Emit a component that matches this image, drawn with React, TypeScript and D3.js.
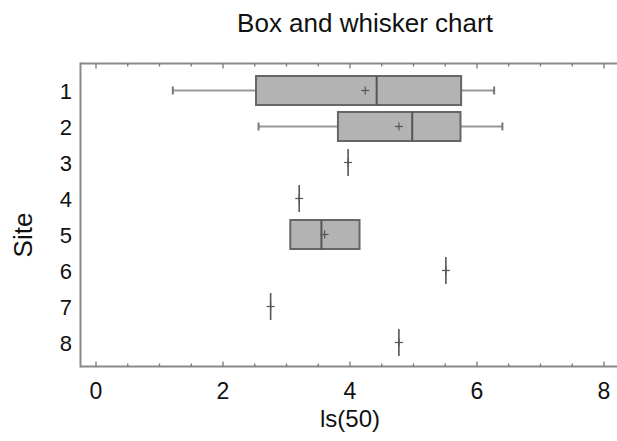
import * as d3 from "d3";
import React from "react";

const W = 617;
const H = 441;

// box and whisker summary per site, values on the ls(50) scale
const sites = ["1", "2", "3", "4", "5", "6", "7", "8"];
const minVals = [1.21, 2.56, 3.97, 3.2, 3.06, 5.51, 2.75, 4.77];
const q1Vals = [2.52, 3.81, 3.97, 3.2, 3.06, 5.51, 2.75, 4.77];
const medianVals = [4.42, 4.98, 3.97, 3.2, 3.55, 5.51, 2.75, 4.77];
const q3Vals = [5.75, 5.74, 3.97, 3.2, 4.15, 5.51, 2.75, 4.77];
const maxVals = [6.27, 6.4, 3.97, 3.2, 4.15, 5.51, 2.75, 4.77];
const meanVals = [4.24, 4.77, 3.97, 3.2, 3.6, 5.51, 2.75, 4.77];

const xTicks = [0, 2, 4, 6, 8];

const left = 80.5;
const top = 63.5;
const bottom = 366.5;
const boxH = 29;
const font = "Arial, 'Liberation Sans', sans-serif";

export default function App() {
    const x = d3.scaleLinear().domain([0, 8]).range([96, 604]);
    const y = d3.scalePoint<string>().domain(sites).range([90.5, 342.5]);
    const minorTicks = d3.range(0, 8.01, 0.5);

    return (
        <svg
            width={W}
            height={H}
            style={{ position: "absolute", left: 0, top: 0, background: "#fff" }}
            fontFamily={font}
        >
            {/* title */}
            <text x={365} y={31.5} textAnchor="middle" fontSize={26} fill="#111">
                Box and whisker chart
            </text>

            {/* frame */}
            <g stroke="#8a8a8a" strokeWidth={2} fill="none">
                <line x1={left} x2={left} y1={top - 1} y2={bottom + 1} />
                <line x1={left} x2={W} y1={top} y2={top} />
                <line x1={left} x2={W} y1={bottom} y2={bottom} />
            </g>

            {/* ticks */}
            <g stroke="#777" strokeWidth={1.3}>
                {minorTicks.map((t) => {
                    const major = t % 2 === 0;
                    const len = major ? 5 : 3;
                    return (
                        <g key={t}>
                            <line x1={x(t)} x2={x(t)} y1={bottom} y2={bottom - len} />
                            <line x1={x(t)} x2={x(t)} y1={top} y2={top + len} />
                        </g>
                    );
                })}
            </g>

            {/* x tick labels */}
            {xTicks.map((t) => (
                <text key={t} x={x(t)} y={399} textAnchor="middle" fontSize={23} fill="#111">
                    {t}
                </text>
            ))}

            {/* y tick labels */}
            {sites.map((s) => (
                <text
                    key={s}
                    x={72}
                    y={(y(s) as number) + 8}
                    textAnchor="end"
                    fontSize={22}
                    fill="#111"
                >
                    {s}
                </text>
            ))}

            {/* axis titles */}
            <text x={350} y={427} textAnchor="middle" fontSize={24} fill="#111">
                ls(50)
            </text>
            <text
                transform="translate(32,235) rotate(-90)"
                textAnchor="middle"
                fontSize={26}
                fill="#111"
            >
                Site
            </text>

            {/* boxes */}
            {sites.map((s, i) => {
                const cy = y(s) as number;
                const y0 = cy - boxH / 2;
                const y1 = cy + boxH / 2;
                const hasBox = q3Vals[i] > q1Vals[i];
                return (
                    <g key={s}>
                        {minVals[i] < q1Vals[i] && (
                            <g stroke="#777">
                                <line x1={x(minVals[i])} x2={x(q1Vals[i])} y1={cy} y2={cy} strokeWidth={2} stroke="#999" />
                                <line x1={x(minVals[i])} x2={x(minVals[i])} y1={cy - 4} y2={cy + 4} strokeWidth={2} />
                            </g>
                        )}
                        {maxVals[i] > q3Vals[i] && (
                            <g stroke="#777">
                                <line x1={x(q3Vals[i])} x2={x(maxVals[i])} y1={cy} y2={cy} strokeWidth={2} stroke="#999" />
                                <line x1={x(maxVals[i])} x2={x(maxVals[i])} y1={cy - 4} y2={cy + 4} strokeWidth={2} />
                            </g>
                        )}
                        {hasBox && (
                            <rect
                                x={x(q1Vals[i])}
                                y={y0}
                                width={x(q3Vals[i]) - x(q1Vals[i])}
                                height={boxH}
                                fill="#b3b3b3"
                                stroke="#666"
                                strokeWidth={2}
                            />
                        )}
                        <line
                            x1={x(medianVals[i])}
                            x2={x(medianVals[i])}
                            y1={hasBox ? y0 : y0 + 1}
                            y2={hasBox ? y1 : y1 - 1}
                            stroke="#555"
                            strokeWidth={hasBox ? 2 : 1.6}
                        />
                        <g stroke="#555" strokeWidth={1.2}>
                            <line x1={x(meanVals[i]) - 4} x2={x(meanVals[i]) + 4} y1={cy} y2={cy} />
                            <line x1={x(meanVals[i])} x2={x(meanVals[i])} y1={cy - 4} y2={cy + 4} />
                        </g>
                    </g>
                );
            })}
        </svg>
    );
}
